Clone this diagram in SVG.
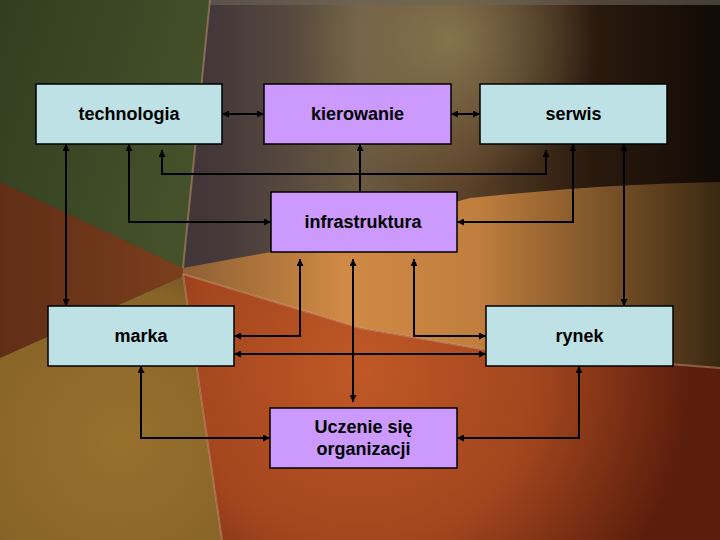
<svg xmlns="http://www.w3.org/2000/svg" width="720" height="540" viewBox="0 0 720 540">
  <defs>
    <linearGradient id="gTop" x1="0" y1="0" x2="1" y2="0">
      <stop offset="0" stop-color="#362c2c"/>
      <stop offset="0.3" stop-color="#44383a"/>
      <stop offset="0.5" stop-color="#6a5a42"/>
      <stop offset="0.65" stop-color="#5a4028"/>
      <stop offset="0.82" stop-color="#2a1a0e"/>
      <stop offset="1" stop-color="#120a05"/>
    </linearGradient>
    <radialGradient id="gGlow" cx="450" cy="40" r="150" gradientUnits="userSpaceOnUse">
      <stop offset="0" stop-color="#928258" stop-opacity="0.75"/>
      <stop offset="1" stop-color="#928258" stop-opacity="0"/>
    </radialGradient>
    <linearGradient id="gGreen" x1="0" y1="0" x2="1" y2="0.4">
      <stop offset="0" stop-color="#323e20"/>
      <stop offset="1" stop-color="#44512a"/>
    </linearGradient>
    <linearGradient id="gBrown" x1="0" y1="0" x2="1" y2="0">
      <stop offset="0" stop-color="#602e16"/>
      <stop offset="1" stop-color="#7a3e1c"/>
    </linearGradient>
    <radialGradient id="gOlive" cx="120" cy="440" r="200" gradientUnits="userSpaceOnUse">
      <stop offset="0" stop-color="#98702e"/>
      <stop offset="0.75" stop-color="#886428"/>
      <stop offset="1" stop-color="#6a4a1e"/>
    </radialGradient>
    <linearGradient id="gTan" x1="183" y1="0" x2="720" y2="0" gradientUnits="userSpaceOnUse">
      <stop offset="0" stop-color="#8e6034"/>
      <stop offset="0.3" stop-color="#d08a44"/>
      <stop offset="0.55" stop-color="#c07e3e"/>
      <stop offset="0.8" stop-color="#765026"/>
      <stop offset="1" stop-color="#3a2812"/>
    </linearGradient>
    <radialGradient id="gRed" cx="360" cy="370" r="330" gradientUnits="userSpaceOnUse">
      <stop offset="0" stop-color="#c05826"/>
      <stop offset="0.55" stop-color="#a2451e"/>
      <stop offset="1" stop-color="#5c1e0c"/>
    </radialGradient>
    <marker id="ah" viewBox="0 0 8 8" refX="8" refY="4" markerWidth="7" markerHeight="7" markerUnits="userSpaceOnUse" orient="auto-start-reverse">
      <path d="M0,0 L8,4 L0,8 Z" fill="#000"/>
    </marker>
    <style>
      .bg-line { fill: none; stroke: #d8a080; stroke-opacity: 0.45; stroke-width: 2; }
      .cyan { fill: #bee1e5; stroke: #000; stroke-width: 1.5; }
      .violet { fill: #cc99fc; stroke: #000; stroke-width: 1.5; }
      .lbl { font-family: "Liberation Sans", Arial, sans-serif; font-weight: bold; font-size: 18px; fill: #000; text-anchor: middle; }
      .conn path { fill: none; stroke: #000; stroke-width: 2; }
      .both { marker-start: url(#ah); marker-end: url(#ah); }
      .one { marker-end: url(#ah); }
    </style>
  </defs>

  <!-- background -->
  <g id="background">
    <rect x="0" y="0" width="720" height="540" fill="#2a1c12"/>
    <rect x="0" y="0" width="720" height="280" fill="url(#gTop)"/>
    <rect x="0" y="0" width="720" height="280" fill="url(#gGlow)"/>
    <rect x="0" y="0" width="720" height="5" fill="#6a6458" opacity="0.6"/>
    <path d="M0,0 L210,0 L183,268 L0,182 Z" fill="url(#gGreen)"/>
    <path d="M0,182 L183,268 L183,276 L0,358 Z" fill="url(#gBrown)"/>
    <path d="M0,358 L183,276 L222,540 L0,540 Z" fill="url(#gOlive)"/>
    <path d="M183,268 Q300,246 360,238 Q430,208 470,198 Q600,184 720,182 L720,368 L487,350 L360,328 L183,274 Z" fill="url(#gTan)"/>
    <path d="M183,274 L360,328 L487,350 L720,368 L720,540 L222,540 Z" fill="url(#gRed)"/>
    <path class="bg-line" d="M183,274 L222,540"/>
    <path class="bg-line" d="M183,274 L360,328 L487,350 L720,368"/>
    <path class="bg-line" d="M210,0 L183,268" stroke-opacity="0.25"/>
  </g>

  <!-- connectors -->
  <g id="connectors" class="conn">
    <path class="both" d="M222,114 H264"/>
    <path class="both" d="M451,114 H480"/>
    <path class="both" d="M66,144 V306"/>
    <path class="both" d="M129,144 V222 H271"/>
    <path class="both" d="M162,150 V174 H546 V150"/>
    <path class="one" d="M360,192 V144"/>
    <path class="both" d="M573,144 V222 H457"/>
    <path class="both" d="M624,144 V306"/>
    <path class="both" d="M300,259 V336 H234"/>
    <path class="both" d="M353,259 V402"/>
    <path class="both" d="M414,259 V336 H486"/>
    <path class="both" d="M234,354 H486"/>
    <path class="both" d="M141,366 V438 H270"/>
    <path class="both" d="M579,366 V438 H457"/>
  </g>

  <!-- nodes -->
  <g id="technologia">
    <rect class="cyan" x="36" y="84" width="186" height="60"/>
    <text class="lbl" x="129" y="120">technologia</text>
  </g>
  <g id="kierowanie">
    <rect class="violet" x="264" y="84" width="187" height="60"/>
    <text class="lbl" x="357.5" y="120">kierowanie</text>
  </g>
  <g id="serwis">
    <rect class="cyan" x="480" y="84" width="187" height="60"/>
    <text class="lbl" x="573.5" y="120">serwis</text>
  </g>
  <g id="infrastruktura">
    <rect class="violet" x="271" y="192" width="186" height="60"/>
    <text class="lbl" x="363" y="228">infrastruktura</text>
  </g>
  <g id="marka">
    <rect class="cyan" x="48" y="306" width="186" height="60"/>
    <text class="lbl" x="141" y="342">marka</text>
  </g>
  <g id="rynek">
    <rect class="cyan" x="486" y="306" width="187" height="60"/>
    <text class="lbl" x="579.5" y="342">rynek</text>
  </g>
  <g id="uczenie">
    <rect class="violet" x="270" y="408" width="187" height="60"/>
    <text class="lbl" x="363.5" y="433">Uczenie się</text>
    <text class="lbl" x="363.5" y="455">organizacji</text>
  </g>
</svg>
